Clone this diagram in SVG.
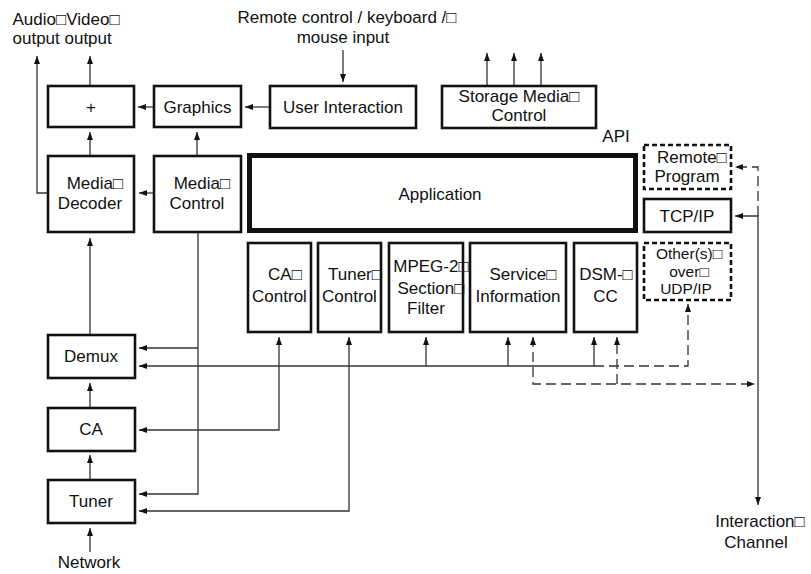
<svg xmlns="http://www.w3.org/2000/svg" width="811" height="574" viewBox="0 0 811 574">
<style>
text{font-family:"Liberation Sans",Arial,sans-serif;font-size:17px;fill:#111;text-anchor:middle}
.st{text-anchor:start}
.sm{font-size:15.5px}
.box{fill:#fff;stroke:#111;stroke-width:2.6}
.dbox{fill:#fff;stroke:#111;stroke-width:2.6;stroke-dasharray:5 3}
.app{fill:#fff;stroke:#111;stroke-width:5}
.c{fill:none;stroke:#333;stroke-width:1.3}
.d{fill:none;stroke:#333;stroke-width:1.3;stroke-dasharray:10 5}
</style>
<defs>
<marker id="ah" markerUnits="userSpaceOnUse" markerWidth="9" markerHeight="7" refX="8" refY="3" orient="auto-start-reverse">
<path d="M0,0 L8,3 L0,6 z" fill="#111"/>
</marker>
</defs>
<rect width="811" height="574" fill="#fff"/>
<g id="labels">
<text class="st" x="12.5" y="25">Audio□Video□</text>
<text class="st" x="12.5" y="43.5">output output</text>
<text x="347" y="23">Remote control / keyboard /□</text>
<text x="343" y="43">mouse input</text>
<text x="616" y="142">API</text>
<text x="89" y="568">Network</text>
<text x="760" y="527">Interaction□</text>
<text x="756" y="548">Channel</text>
</g>
<g id="connectors">
<polyline class="c" points="47,193 37,193 37,56" marker-end="url(#ah)"/>
<line class="c" x1="90" y1="85" x2="90" y2="56" marker-end="url(#ah)"/>
<line class="c" x1="153" y1="107" x2="138" y2="107" marker-end="url(#ah)"/>
<line class="c" x1="269" y1="107" x2="245" y2="107" marker-end="url(#ah)"/>
<line class="c" x1="343" y1="50" x2="343" y2="82" marker-end="url(#ah)"/>
<line class="c" x1="487" y1="85" x2="487" y2="53" marker-end="url(#ah)"/>
<line class="c" x1="514" y1="85" x2="514" y2="53" marker-end="url(#ah)"/>
<line class="c" x1="541" y1="85" x2="541" y2="53" marker-end="url(#ah)"/>
<line class="c" x1="90" y1="155" x2="90" y2="132" marker-end="url(#ah)"/>
<line class="c" x1="197" y1="155" x2="197" y2="132" marker-end="url(#ah)"/>
<line class="c" x1="153" y1="193" x2="139" y2="193" marker-end="url(#ah)"/>
<line class="c" x1="90" y1="334" x2="90" y2="238" marker-end="url(#ah)"/>
<polyline class="c" points="198,233 198,494 139,494" marker-end="url(#ah)"/>
<line class="c" x1="198" y1="348" x2="139" y2="348" marker-end="url(#ah)"/>
<line class="c" x1="90" y1="407" x2="90" y2="383" marker-end="url(#ah)"/>
<line class="c" x1="90" y1="479" x2="90" y2="455" marker-end="url(#ah)"/>
<line class="c" x1="90" y1="552" x2="90" y2="528" marker-end="url(#ah)"/>
<line class="c" x1="594" y1="366" x2="139" y2="366" marker-end="url(#ah)"/>
<line class="c" x1="426" y1="366" x2="426" y2="337" marker-end="url(#ah)"/>
<line class="c" x1="508" y1="366" x2="508" y2="337" marker-end="url(#ah)"/>
<line class="c" x1="594" y1="366" x2="594" y2="337" marker-end="url(#ah)"/>
<polyline class="d" points="594,366 688,366 688,304" marker-end="url(#ah)"/>
<polyline class="c" points="139,430 279,430 279,337" marker-start="url(#ah)" marker-end="url(#ah)"/>
<polyline class="c" points="139,511 349,511 349,337" marker-start="url(#ah)" marker-end="url(#ah)"/>
<polyline class="d" points="533,337 533,384 755,384" marker-start="url(#ah)" marker-end="url(#ah)"/>
<line class="d" x1="617" y1="384" x2="617" y2="337" marker-end="url(#ah)"/>
<polyline class="d" points="758,216 758,167 735,167" marker-end="url(#ah)"/>
<polyline class="c" points="735,216 758,216 758,505" marker-start="url(#ah)" marker-end="url(#ah)"/>
</g>
<g id="plus"><rect class="box" x="48" y="86" width="86" height="41"/><text x="91" y="113">+</text></g>
<g id="graphics"><rect class="box" x="154" y="86" width="87" height="41"/><text x="197.5" y="113">Graphics</text></g>
<g id="user-interaction"><rect class="box" x="270" y="86" width="146" height="42"/><text x="343" y="113">User Interaction</text></g>
<g id="storage-media-control"><rect class="box" x="442" y="86" width="154" height="42"/><text x="519" y="101.5">Storage Media□</text><text x="519" y="120.5">Control</text></g>
<g id="media-decoder"><rect class="box" x="48" y="156" width="86" height="76"/><text x="95" y="189">Media□</text><text x="90" y="209">Decoder</text></g>
<g id="media-control"><rect class="box" x="154" y="156" width="87" height="76"/><text x="202" y="189">Media□</text><text x="197" y="209">Control</text></g>
<g id="application"><rect class="app" x="249.5" y="155.5" width="386" height="75"/><text x="440" y="200">Application</text></g>
<g id="remote-program"><rect class="dbox" x="644" y="145" width="87" height="44"/><text x="692" y="163">Remote□</text><text x="687" y="182">Program</text></g>
<g id="tcp-ip"><rect class="box" x="644" y="199" width="87" height="33"/><text x="687" y="222">TCP/IP</text></g>
<g id="others-udp"><rect class="dbox" x="644" y="243" width="87" height="57"/><text class="sm" x="689" y="259">Other(s)□</text><text class="sm" x="689" y="276.5">over□</text><text class="sm" x="686" y="294">UDP/IP</text></g>
<g id="ca-control"><rect class="box" x="248" y="243" width="63" height="89"/><text x="285" y="280">CA□</text><text x="279.5" y="302">Control</text></g>
<g id="tuner-control"><rect class="box" x="318" y="243" width="63" height="89"/><text x="355" y="280">Tuner□</text><text x="349.5" y="302">Control</text></g>
<g id="mpeg2-section-filter"><rect class="box" x="389" y="243" width="74" height="89"/><text x="431" y="272">MPEG-2□</text><text x="431" y="294">Section□</text><text x="426" y="314">Filter</text></g>
<g id="service-information"><rect class="box" x="470" y="243" width="96" height="89"/><text x="523" y="280">Service□</text><text x="518" y="302">Information</text></g>
<g id="dsm-cc"><rect class="box" x="574" y="243" width="63" height="89"/><text x="606" y="280">DSM-□</text><text x="605.5" y="302">CC</text></g>
<g id="demux"><rect class="box" x="48" y="335" width="87" height="43"/><text x="91" y="362">Demux</text></g>
<g id="ca"><rect class="box" x="48" y="408" width="87" height="43"/><text x="91" y="435">CA</text></g>
<g id="tuner"><rect class="box" x="48" y="480" width="87" height="43"/><text x="91" y="507">Tuner</text></g>
</svg>
